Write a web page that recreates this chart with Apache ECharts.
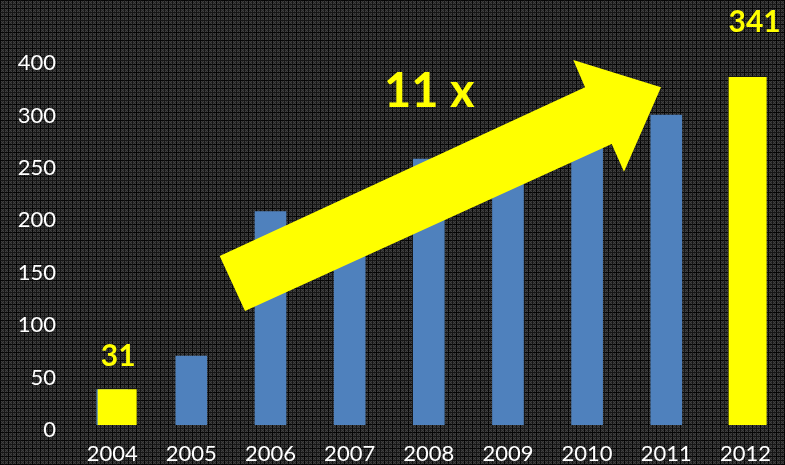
<!DOCTYPE html>
<html>
<head>
<meta charset="utf-8">
<script src="https://cdn.jsdelivr.net/npm/echarts@6/dist/echarts.min.js"></script>
<style>
html,body{margin:0;padding:0;background:#1c1c1c;}
#chart{width:785px;height:465px;}
</style>
</head>
<body>
<div id="chart"></div>
<script>
// ---- data ----
var years = ['2004','2005','2006','2007','2008','2009','2010','2011','2012'];
var values = [34, 66, 204, 200, 254, 265, 280, 296, 332];
var yTickLabels = ['0','50','100','150','200','250','300','400'];
var highlightIndex = [0, 8];
var highlightLabels = ['31', '341'];
var growthText = '11 x';

// ---- styles ----
var highlightStyle = [
  {dx: 5, w: 39, labelDx: 1, labelDy: -33},
  {dx: 2.2, w: 38, labelDx: 7, labelDy: -54.5}
];

function makePattern(){
  var c = document.createElement('canvas');
  c.width = 8; c.height = 8;
  var ctx = c.getContext('2d');
  ctx.fillStyle = '#282828';
  ctx.fillRect(0,0,8,8);
  for (var y=0;y<8;y++){
    for (var x=0;x<8;x++){
      if ((x+y)%2===0){ ctx.fillStyle='#404040'; ctx.fillRect(x,y,1,1); }
    }
  }
  ctx.fillStyle = '#060606';
  ctx.fillRect(0,0,8,1);
  ctx.fillRect(0,0,1,8);
  ctx.fillStyle = '#161616';
  ctx.fillRect(0,4,8,1);
  ctx.fillRect(4,0,1,8);
  return c;
}

var chart = echarts.init(document.getElementById('chart'), null, {renderer:'canvas'});

var hlData = highlightIndex.map(function(i, k){ return [i, values[i], k]; });

var option = {
  animation: false,
  backgroundColor: {image: makePattern(), repeat: 'repeat'},
  grid: {left: 72.6, width: 713.7, top: 58.1, bottom: 38},
  xAxis: {
    type: 'category',
    data: years,
    axisLine: {show: false},
    axisTick: {show: false},
    axisLabel: {color: '#ffffff', fontFamily: 'Lato', fontSize: 22, margin: 18}
  },
  yAxis: {
    type: 'value',
    min: 0, max: 350, interval: 50,
    splitLine: {show: false},
    axisLine: {show: false},
    axisTick: {show: false},
    axisLabel: {
      color: '#ffffff', fontFamily: 'Lato', fontSize: 22, margin: 16.6,
      verticalAlign: 'top', lineHeight: 10,
      formatter: function(v){ return yTickLabels[Math.round(v/50)]; }
    }
  },
  series: [
    {
      type: 'bar',
      data: values,
      barWidth: '40%',
      itemStyle: {color: '#4f81bd'},
      z: 2
    },
    {
      type: 'custom',
      data: hlData,
      z: 3,
      renderItem: function(params, api){
        var idx = api.value(0), val = api.value(1), k = api.value(2);
        var st = highlightStyle[k];
        var top = api.coord([idx, val]);
        var base = api.coord([idx, 0]);
        var cx = top[0] + st.dx;
        return {
          type: 'group',
          children: [
            {type: 'rect', shape: {x: cx - st.w/2, y: top[1], width: st.w, height: base[1]-top[1]},
             style: {fill: '#ffff00'}},
            {type: 'text', style: {text: highlightLabels[k], x: cx + st.labelDx, y: top[1] + st.labelDy,
              fill: '#ffff00', font: 'bold 30px Lato', textAlign: 'center', textVerticalAlign: 'middle'}}
          ]
        };
      }
    }
  ],
  graphic: [
    {
      type: 'polygon', z: 10,
      shape: {points: [[219.7,256],[585,87.3],[573.3,60],[661,87.3],[624,171.7],[611.7,144],[245,311]]},
      style: {fill: '#ffff00'}
    },
    {
      type: 'text', z: 10, left: 384, top: 68,
      style: {text: growthText, fill: '#ffff00', font: 'bold 47px Lato'}
    }
  ]
};
chart.setOption(option);
</script>
</body>
</html>
